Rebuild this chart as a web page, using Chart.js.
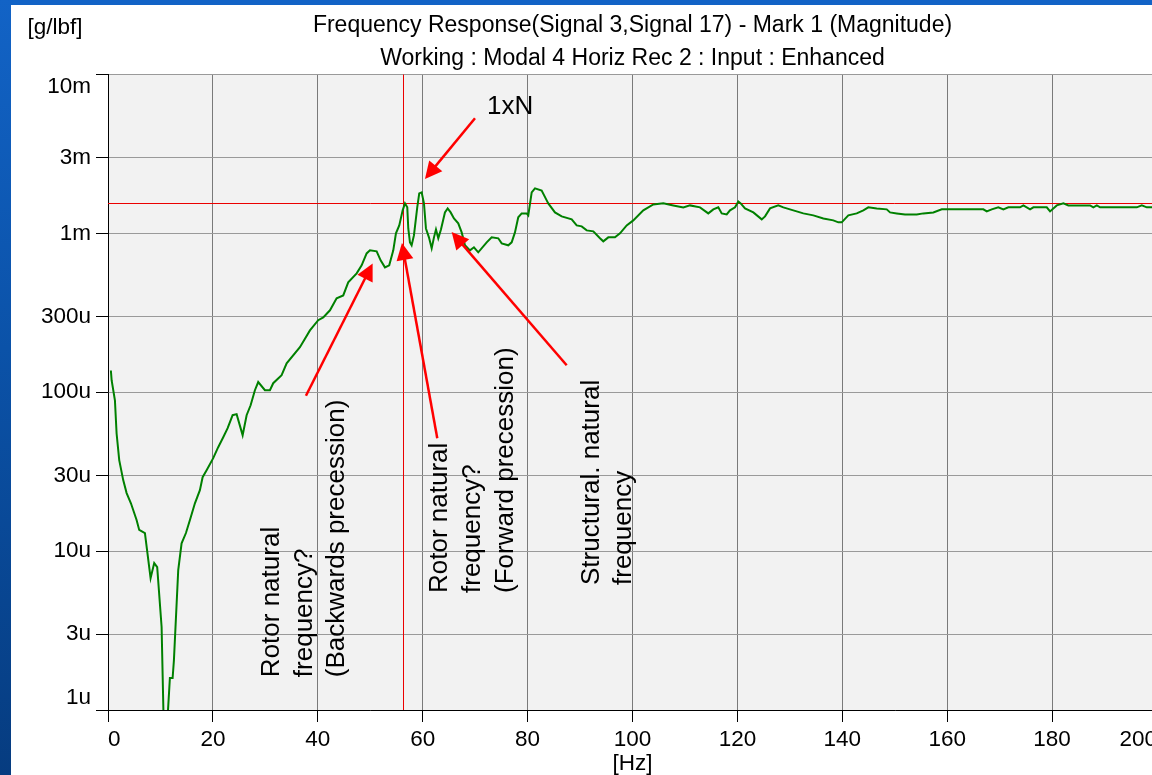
<!DOCTYPE html>
<html><head><meta charset="utf-8">
<script src="https://cdn.jsdelivr.net/npm/chart.js@4.4.1/dist/chart.umd.min.js"></script>
<style>
html,body{margin:0;padding:0;background:#fff;overflow:hidden;width:1152px;height:775px;}
#wrap{position:absolute;left:0;top:0;width:1200px;height:775px;}
#leftbar{position:absolute;left:0;top:0;width:11px;height:775px;background:linear-gradient(#1263c6,#0b52a8 45%,#063c80);}
#topbar{position:absolute;left:0;top:0;width:1152px;height:5px;background:#1263c6;}
</style></head><body>
<div id="wrap"><canvas id="c" width="1200" height="775"></canvas></div>
<div id="topbar"></div><div id="leftbar"></div>
<script>
const FONT = '"Liberation Sans", Arial, sans-serif';
const titleLines = ['Frequency Response(Signal 3,Signal 17) - Mark 1 (Magnitude)', 'Working : Modal 4 Horiz Rec 2 : Input : Enhanced'];
const yUnitLabel = '[g/lbf]';
const xUnitLabel = '[Hz]';

// frequency [Hz]
const freqHz = [0.55,0.69,1.32,1.64,2.14,2.90,3.55,4.37,5.45,5.95,7.04,8.12,8.81,9.38,10.22,10.66,11.17,11.80,12.32,12.57,
13.39,14.03,14.86,15.62,16.57,17.52,18.04,18.80,20.06,21.01,21.97,22.81,23.76,24.52,25.67,26.43,27.19,28.01,28.64,29.92,
30.87,31.50,33.10,34.06,36.59,38.50,40.08,41.04,42.32,43.59,44.85,45.80,47.41,48.36,49.31,49.94,51.22,51.98,52.80,53.62,
54.39,54.90,55.53,56.18,56.62,57.06,57.25,57.57,57.89,58.33,58.96,59.34,59.80,60.24,60.62,61.19,61.71,62.15,62.53,62.97,
63.48,64.24,64.76,65.33,65.96,66.78,67.43,68.06,69.01,69.77,70.59,72.20,73.15,74.41,75.06,76.32,76.96,77.59,78.22,78.87,
79.82,80.13,80.78,81.41,82.68,83.64,83.94,85.22,86.50,88.41,89.36,90.31,91.27,92.53,93.80,94.43,95.39,96.66,97.62,98.89,
100.15,102.06,103.97,105.87,107.78,109.69,110.96,112.87,114.45,115.41,116.36,117.01,117.96,118.59,119.55,120.18,120.63,121.45,123.04,124.64,
125.27,126.22,127.80,128.76,130.66,132.57,134.48,136.39,138.29,139.25,139.89,141.15,142.75,144.01,144.96,146.57,148.47,149.10,150.38,151.96,
154.19,155.45,157.36,158.96,161.82,166.89,167.54,168.49,169.75,170.71,171.66,173.89,174.52,175.80,176.43,178.98,179.61,180.89,182.15,183.10,
187.24,187.87,188.52,189.15,196.15,197.10,198.05,199.06,200.00];

// magnitude [g/lbf]
const magnitude = [137e-6,119e-6,89e-6,55e-6,37.4e-6,28e-6,23.2e-6,20.0e-6,15.7e-6,13.6e-6,13.0e-6,6.76e-6,8.41e-6,7.93e-6,3.33e-6,0.7e-6,0.7e-6,1.59e-6,1.59e-6,2.06e-6,
7.6e-6,11.2e-6,13.0e-6,15.7e-6,20.0e-6,24.2e-6,29.2e-6,32.3e-6,38.5e-6,45.1e-6,52.1e-6,59.4e-6,71.7e-6,72.8e-6,53.7e-6,71.7e-6,82.8e-6,103e-6,116e-6,103e-6,
103e-6,114e-6,128e-6,152e-6,192e-6,245e-6,284e-6,296e-6,328e-6,390e-6,407e-6,492e-6,560e-6,629e-6,748e-6,782e-6,771e-6,676e-6,611e-6,629e-6,
782e-6,1000e-6,1122e-6,1396e-6,1545e-6,1458e-6,1074e-6,878e-6,841e-6,971e-6,1458e-6,1786e-6,1811e-6,1545e-6,1074e-6,944e-6,805e-6,944e-6,1059e-6,931e-6,
1059e-6,1355e-6,1436e-6,1355e-6,1242e-6,1156e-6,1014e-6,841e-6,782e-6,817e-6,760e-6,878e-6,944e-6,931e-6,865e-6,841e-6,878e-6,1014e-6,1262e-6,1336e-6,
1336e-6,1298e-6,1811e-6,1919e-6,1862e-6,1614e-6,1545e-6,1355e-6,1279e-6,1225e-6,1122e-6,1107e-6,1044e-6,1030e-6,931e-6,891e-6,944e-6,944e-6,1000e-6,1122e-6,
1207e-6,1396e-6,1521e-6,1545e-6,1500e-6,1458e-6,1500e-6,1458e-6,1336e-6,1416e-6,1458e-6,1336e-6,1316e-6,1396e-6,1458e-6,1589e-6,1545e-6,1436e-6,1355e-6,1225e-6,
1279e-6,1436e-6,1500e-6,1458e-6,1396e-6,1336e-6,1298e-6,1242e-6,1207e-6,1173e-6,1173e-6,1298e-6,1336e-6,1396e-6,1458e-6,1436e-6,1416e-6,1355e-6,1336e-6,1316e-6,
1316e-6,1336e-6,1355e-6,1416e-6,1416e-6,1416e-6,1375e-6,1416e-6,1458e-6,1416e-6,1458e-6,1458e-6,1500e-6,1416e-6,1458e-6,1458e-6,1375e-6,1500e-6,1545e-6,1500e-6,
1500e-6,1458e-6,1500e-6,1458e-6,1458e-6,1500e-6,1458e-6,1458e-6,1458e-6];

const xMin = 0, xMax = 200, xStep = 20;
const yMin = 1e-6, yMax = 1e-2;
const yTickValues = [1e-6, 3e-6, 1e-5, 3e-5, 1e-4, 3e-4, 1e-3, 3e-3, 1e-2];
const yTickLabels = ['1u', '3u', '10u', '30u', '100u', '300u', '1m', '3m', '10m'];

// cursor (red cross)
const cursorHz = 56.3;
const cursorMag = 1.545e-3;

// arrows: tail -> head, in [Hz, g/lbf]
const arrowTails = [[69.97, 5.30e-3], [37.74, 9.51e-5], [62.78, 5.13e-5], [87.45, 1.48e-4]];
const arrowHeads = [[60.43, 2.20e-3], [50.46, 6.47e-4], [56.04, 8.69e-4], [65.52, 1.02e-3]];

// notes
const noteText = '1xN';
const noteAt = [72.25, 5.64e-3];
const rotatedNoteLines = [
  ['Rotor natural', 'frequency?', '(Backwards precession)'],
  ['Rotor natural', 'frequency?', '(Forward precession)'],
  ['Structural. natural', 'frequency']
];
const rotatedNoteAt = [[31.2, 1.61e-6], [63.29, 5.45e-6], [92.2, 6.12e-6]];

const points = freqHz.map((f, i) => ({x: f, y: magnitude[i]}));

const decorPlugin = {
  id: 'decor',
  beforeDraw(chart) {
    const {ctx, chartArea: a} = chart;
    ctx.save();
    ctx.fillStyle = '#f2f2f2';
    ctx.fillRect(a.left, a.top, a.right - a.left, a.bottom - a.top);
    ctx.restore();
  },
  beforeDatasetsDraw(chart) {
    const {ctx, chartArea: a, scales: {x, y}} = chart;
    ctx.save();
    ctx.strokeStyle = 'rgb(235,0,0)';
    ctx.lineWidth = 1;
    const px = Math.round(x.getPixelForValue(cursorHz)) + 0.5;
    const py = Math.round(y.getPixelForValue(cursorMag)) + 0.5;
    ctx.beginPath();
    ctx.moveTo(px, a.top); ctx.lineTo(px, a.bottom);
    ctx.moveTo(a.left, py); ctx.lineTo(a.right, py);
    ctx.stroke();
    ctx.restore();
  },
  afterDatasetsDraw(chart) {
    const {ctx, scales: {x, y}} = chart;
    ctx.save();
    ctx.strokeStyle = '#ff0000';
    ctx.fillStyle = '#ff0000';
    ctx.lineWidth = 2.5;
    const headLen = 17, headHalf = 8.5;
    arrowTails.forEach((t, i) => {
      const h = arrowHeads[i];
      const x0 = x.getPixelForValue(t[0]), y0 = y.getPixelForValue(t[1]);
      const x1 = x.getPixelForValue(h[0]), y1 = y.getPixelForValue(h[1]);
      const dx = x1 - x0, dy = y1 - y0, L = Math.hypot(dx, dy);
      const ux = dx / L, uy = dy / L;
      const bx = x1 - ux * headLen, by = y1 - uy * headLen;
      ctx.beginPath();
      ctx.moveTo(x0, y0); ctx.lineTo(bx + ux * 2, by + uy * 2);
      ctx.stroke();
      ctx.beginPath();
      ctx.moveTo(x1, y1);
      ctx.lineTo(bx - uy * headHalf, by + ux * headHalf);
      ctx.lineTo(bx + uy * headHalf, by - ux * headHalf);
      ctx.closePath();
      ctx.fill();
    });
    ctx.fillStyle = '#000';
    ctx.font = '26px ' + FONT;
    ctx.textAlign = 'left';
    ctx.textBaseline = 'alphabetic';
    ctx.fillText(noteText, x.getPixelForValue(noteAt[0]), y.getPixelForValue(noteAt[1]));
    ctx.textBaseline = 'middle';
    rotatedNoteLines.forEach((lines, i) => {
      const sx = x.getPixelForValue(rotatedNoteAt[i][0]);
      const sy = y.getPixelForValue(rotatedNoteAt[i][1]);
      ctx.save();
      ctx.translate(sx, sy);
      ctx.rotate(-Math.PI / 2);
      lines.forEach((ln, j) => ctx.fillText(ln, 0, j * 32.7));
      ctx.restore();
    });
    ctx.restore();
  },
  afterDraw(chart) {
    const {ctx} = chart;
    ctx.save();
    ctx.fillStyle = '#000';
    ctx.font = '22.5px ' + FONT;
    ctx.textAlign = 'left';
    ctx.textBaseline = 'alphabetic';
    ctx.fillText(yUnitLabel, 27.5, 34);
    ctx.restore();
  }
};

new Chart(document.getElementById('c'), {
  type: 'line',
  data: {
    datasets: [{
      data: points,
      borderColor: '#008000',
      borderWidth: 2,
      pointRadius: 0,
      tension: 0,
      fill: false
    }]
  },
  options: {
    responsive: false,
    animation: false,
    devicePixelRatio: 1,
    layout: {padding: {left: 0, right: 43, top: 0, bottom: 0}},
    plugins: {
      legend: {display: false},
      tooltip: {enabled: false},
      title: {
        display: true,
        text: titleLines,
        fullSize: false,
        color: '#000',
        font: {family: FONT, size: 23, weight: 'normal', lineHeight: 1.413},
        padding: {top: 9.5, bottom: 0}
      }
    },
    scales: {
      x: {
        type: 'linear',
        min: xMin, max: xMax,
        afterFit(s) { s.height = 65; },
        ticks: {stepSize: xStep, autoSkip: false, maxRotation: 0, align: 'inner', padding: 4.5, color: '#000',
          font: {family: FONT, size: 22.5, lineHeight: 1.2}},
        grid: {color: '#7a7a7a', lineWidth: 1, drawTicks: true, tickLength: 12, tickColor: '#000', tickWidth: 1},
        border: {display: true, color: '#000', width: 1},
        title: {display: true, text: xUnitLabel, color: '#000', font: {family: FONT, size: 22.5, lineHeight: 1}, padding: 0}
      },
      y: {
        type: 'logarithmic',
        min: yMin, max: yMax,
        afterFit(s) { s.width = 108; },
        afterBuildTicks(s) { s.ticks = yTickValues.map(v => ({value: v})); },
        ticks: {
          autoSkip: false, padding: 5, color: '#000',
          font: {family: FONT, size: 22.5, lineHeight: 24 / 22.5},
          callback(value) {
            const i = yTickValues.findIndex(v => Math.abs(v - value) / v < 1e-6);
            if (i < 0) return '';
            const lab = yTickLabels[i];
            if (i === 0) return [lab, ''];
            if (i === yTickValues.length - 1) return ['', lab];
            return lab;
          }
        },
        grid: {color: '#9a9a9a', lineWidth: 1, drawTicks: true, tickLength: 12, tickColor: '#000', tickWidth: 1},
        border: {display: true, color: '#000', width: 1}
      }
    }
  },
  plugins: [decorPlugin]
});
</script></body></html>
